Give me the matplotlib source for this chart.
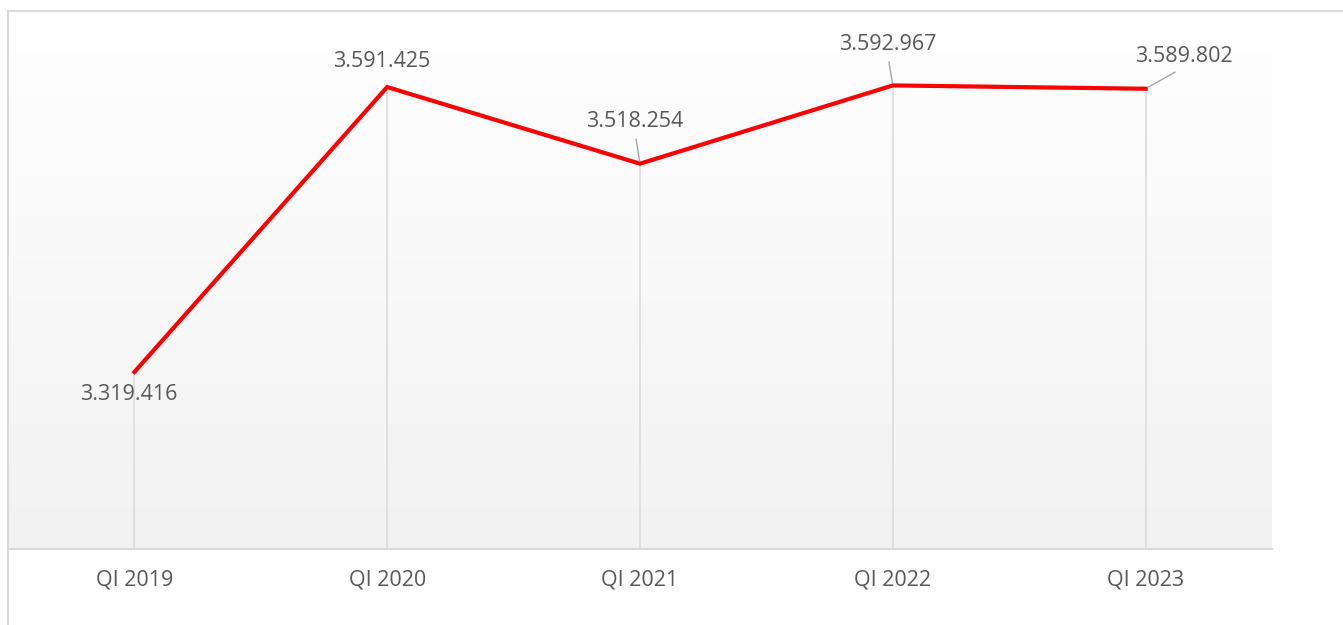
import numpy as np
import matplotlib.pyplot as plt
from matplotlib.patches import Rectangle

# Dane wykresu
quarters = ['QI 2019', 'QI 2020', 'QI 2021', 'QI 2022', 'QI 2023']
values = [3319416, 3591425, 3518254, 3592967, 3589802]
value_labels = ['3.319.416', '3.591.425', '3.518.254', '3.592.967', '3.589.802']

# Przesunięcia etykiet (piksele) i czy rysować linię odniesienia
label_offsets = [(-6, -22), (-6, 26), (-5, 42), (-5, 41), (38, 32)]
leader = [False, False, True, True, True]

W, H = 1343, 625
fig = plt.figure(figsize=(W / 100, H / 100), dpi=100)
fig.patch.set_facecolor('white')

left, right, top, bottom = 8, 1272, 11, 549
ax = fig.add_axes([left / W, 1 - bottom / H, (right - left) / W, (bottom - top) / H])

x = np.arange(len(quarters))
ax.set_xlim(-0.5, len(quarters) - 0.5)
ax.set_ylim(3150500, 3664000)

# Gradient tła
grad = np.linspace(0, 1, 256).reshape(-1, 1)
top_c = np.array([1.0, 1.0, 1.0])
bot_c = np.array([0xf2, 0xf2, 0xf2]) / 255
img = top_c * (1 - grad[:, :, None]) + bot_c * grad[:, :, None]
ax.imshow(img, extent=[0, 1, 0, 1], transform=ax.transAxes, aspect='auto', zorder=0)

# Linie opadające
ax.vlines(x, ax.get_ylim()[0], values, color='#d9d9d9', lw=1.1, zorder=1)

ax.plot(x, values, color='#ff0000', lw=3.0, zorder=3, solid_joinstyle='miter')

for i, (v, lab) in enumerate(zip(values, value_labels)):
    dx, dy = label_offsets[i]
    props = None
    if leader[i]:
        props = dict(arrowstyle='-', color='#a6a6a6', lw=1.0, shrinkA=3, shrinkB=2,
                     relpos=(0.5, 0.0))
    ax.annotate(lab, xy=(x[i], v), xytext=(dx, dy), textcoords='offset pixels',
                ha='center', va='center', fontsize=15.5, family='Open Sans',
                color='#595959', arrowprops=props, zorder=4)

for s in ['top', 'left', 'right']:
    ax.spines[s].set_visible(False)
ax.spines['bottom'].set_color('#d9d9d9')
ax.spines['bottom'].set_linewidth(1.5)
ax.set_yticks([])
ax.set_xticks(x)
ax.set_xticklabels(quarters, fontsize=15.5, family='Open Sans', color='#595959')
ax.tick_params(axis='x', length=0, pad=15)

# Ramka wykresu
fig.patches.append(Rectangle((left / W, -0.5), 2, 1 - top / H + 0.5, transform=fig.transFigure,
                             fill=False, ec='#d9d9d9', lw=1.5, zorder=10))

fig.savefig('out.png', dpi=100)
